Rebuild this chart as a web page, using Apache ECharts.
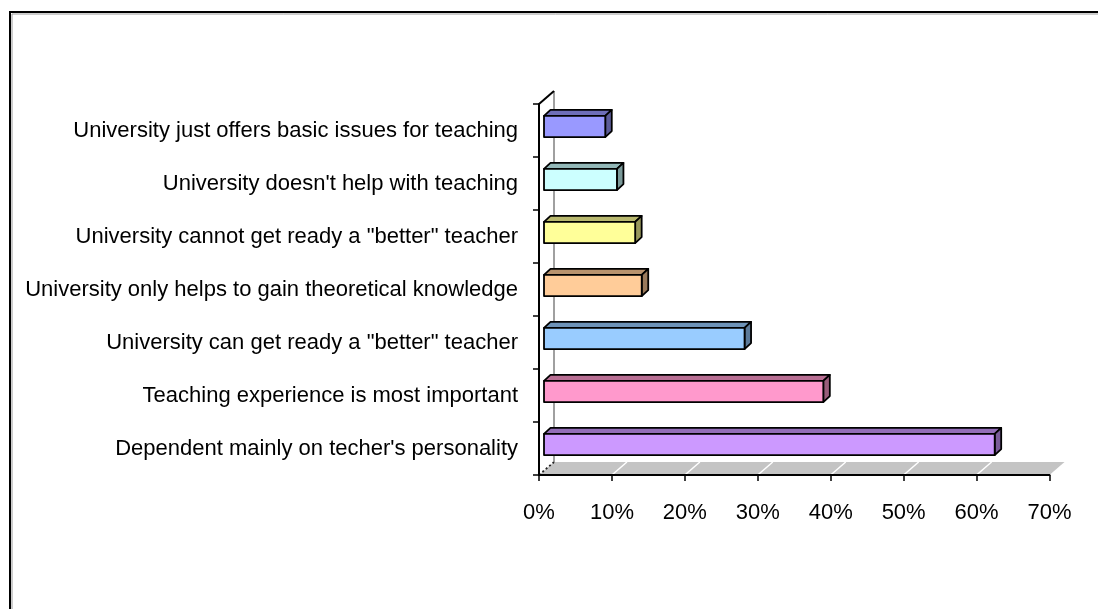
<!DOCTYPE html>
<html>
<head>
<meta charset="utf-8">
<title>University and teaching</title>
<script src="https://cdn.jsdelivr.net/npm/echarts@6/dist/echarts.min.js"></script>
<style>
  html, body { margin: 0; padding: 0; background: #ffffff; }
  #chart { width: 1098px; height: 609px; }
</style>
</head>
<body>
<div id="chart"></div>
<script>
// Categories listed bottom to top, as the category axis draws them
const categories = [
  "Dependent mainly on techer's personality",
  'Teaching experience is most important',
  'University can get ready a "better" teacher',
  'University only helps to gain theoretical knowledge',
  'University cannot get ready a "better" teacher',
  "University doesn't help with teaching",
  'University just offers basic issues for teaching'
];
// Share of answers, percent
const shares = [61.8, 38.3, 27.5, 13.4, 12.5, 10.0, 8.4];
// Value axis ticks, percent
const xTicks = [0, 10, 20, 30, 40, 50, 60, 70];

// Front face colour of each bar (same order as categories)
const barColors = ['#CC99FF', '#FF99CC', '#99CCFF', '#FFCC99', '#FFFF99', '#CCFFFF', '#9999FF'];

// Depth of the 3-D box (floor and back wall), in pixels
const DEPTH_X = 15, DEPTH_Y = -13;
// Bar placement inside the depth, and bar thickness
const BAR_OFF_X = 5, BAR_OFF_Y = -4;
const BAR_DX = 6.5, BAR_DY = -6;

function shade(hex, k) {
  const n = parseInt(hex.slice(1), 16);
  const r = Math.round(((n >> 16) & 255) * k);
  const g = Math.round(((n >> 8) & 255) * k);
  const b = Math.round((n & 255) * k);
  return 'rgb(' + r + ',' + g + ',' + b + ')';
}

const chart = echarts.init(document.getElementById('chart'), null, { renderer: 'canvas' });

// Floor, grid lines on the floor and back wall edge
function renderFloor(params, api) {
  const band = api.size([0, 1])[1];
  const c0 = api.coord([0, 0]);
  const cTop = api.coord([0, categories.length - 1]);
  const yFront = c0[1] + band / 2;
  const yTop = cTop[1] - band / 2;
  const xMin = api.coord([xTicks[0], 0])[0];
  const xMax = api.coord([xTicks[xTicks.length - 1], 0])[0];
  const children = [];
  children.push({
    type: 'polygon',
    shape: { points: [[xMin, yFront], [xMax, yFront], [xMax + DEPTH_X, yFront + DEPTH_Y], [xMin + DEPTH_X, yFront + DEPTH_Y]] },
    style: { fill: '#C4C4C4', stroke: null }
  });
  xTicks.forEach(function (t, i) {
    if (i === 0 || i === xTicks.length - 1) return;
    const x = api.coord([t, 0])[0];
    children.push({
      type: 'line',
      shape: { x1: x, y1: yFront, x2: x + DEPTH_X, y2: yFront + DEPTH_Y },
      style: { stroke: '#ffffff', lineWidth: 1.5 }
    });
  });
  // dotted edge where floor meets the left side
  children.push({
    type: 'line',
    shape: { x1: xMin, y1: yFront, x2: xMin + DEPTH_X, y2: yFront + DEPTH_Y },
    style: { stroke: '#222222', lineWidth: 1.8, lineDash: [2, 2.5] }
  });
  // back wall edge and the slanted top of the value axis
  children.push({
    type: 'line',
    shape: { x1: xMin + DEPTH_X, y1: yFront + DEPTH_Y, x2: xMin + DEPTH_X, y2: yTop + DEPTH_Y },
    style: { stroke: '#808080', lineWidth: 1.5 }
  });
  children.push({
    type: 'line',
    shape: { x1: xMin, y1: yTop, x2: xMin + DEPTH_X, y2: yTop + DEPTH_Y },
    style: { stroke: '#000000', lineWidth: 2 }
  });
  return { type: 'group', children: children };
}

// One 3-D bar per category
function renderBar(params, api) {
  const val = api.value(0);
  const idx = api.value(1);
  const band = api.size([0, 1])[1];
  const p0 = api.coord([0, idx]);
  const p1 = api.coord([val, idx]);
  const h = band * 0.4;
  const xl = p0[0] + BAR_OFF_X;
  const xr = p1[0] + BAR_OFF_X;
  const yt = p0[1] + BAR_OFF_Y - h / 2;
  const yb = p0[1] + BAR_OFF_Y + h / 2;
  const color = barColors[idx];
  const edge = { stroke: '#000000', lineWidth: 1.8, lineJoin: 'round' };
  return {
    type: 'group',
    children: [
      {
        type: 'polygon',
        shape: { points: [[xl, yt], [xr, yt], [xr + BAR_DX, yt + BAR_DY], [xl + BAR_DX, yt + BAR_DY]] },
        style: Object.assign({ fill: shade(color, 0.72) }, edge)
      },
      {
        type: 'polygon',
        shape: { points: [[xr, yt], [xr + BAR_DX, yt + BAR_DY], [xr + BAR_DX, yb + BAR_DY], [xr, yb]] },
        style: Object.assign({ fill: shade(color, 0.6) }, edge)
      },
      {
        type: 'rect',
        shape: { x: xl, y: yt, width: xr - xl, height: yb - yt },
        style: Object.assign({ fill: color }, edge)
      }
    ]
  };
}

const option = {
  backgroundColor: '#ffffff',
  animation: false,
  textStyle: { fontFamily: 'Liberation Sans, Arial, sans-serif' },
  graphic: [
    {
      type: 'rect',
      shape: { x: 10, y: 12, width: 1200, height: 700 },
      style: { fill: null, stroke: '#000000', lineWidth: 2 },
      silent: true
    },
    {
      type: 'polyline',
      shape: { points: [[12, 700], [12, 14], [1200, 14]] },
      style: { fill: null, stroke: '#9a9a9a', lineWidth: 1 },
      silent: true
    }
  ],
  grid: { left: 539, right: 48.5, top: 104, bottom: 134, containLabel: false },
  xAxis: {
    type: 'value',
    min: xTicks[0],
    max: xTicks[xTicks.length - 1],
    interval: 10,
    axisLine: { show: true, lineStyle: { color: '#000000', width: 2 } },
    axisTick: { show: true, length: 6, lineStyle: { color: '#000000', width: 1.5 } },
    splitLine: { show: false },
    axisLabel: {
      formatter: '{value}%',
      color: '#000000',
      fontSize: 22,
      margin: 27,
      fontFamily: 'Liberation Sans, Arial, sans-serif'
    },
    z: 5
  },
  yAxis: {
    type: 'category',
    data: categories,
    boundaryGap: true,
    axisLine: { show: true, lineStyle: { color: '#000000', width: 2 } },
    axisTick: { show: true, length: 6, lineStyle: { color: '#000000', width: 1.5 } },
    axisLabel: {
      color: '#000000',
      fontSize: 22,
      margin: 21,
      fontFamily: 'Liberation Sans, Arial, sans-serif'
    },
    z: 5
  },
  series: [
    {
      type: 'custom',
      name: 'floor',
      coordinateSystem: 'cartesian2d',
      renderItem: renderFloor,
      data: [[0, 0]],
      clip: false,
      silent: true,
      z: 1
    },
    {
      type: 'custom',
      name: 'share',
      coordinateSystem: 'cartesian2d',
      renderItem: renderBar,
      encode: { x: 0, y: 1 },
      data: shares.map(function (v, i) { return [v, i]; }),
      clip: false,
      z: 3
    }
  ]
};

chart.setOption(option);
</script>
</body>
</html>
